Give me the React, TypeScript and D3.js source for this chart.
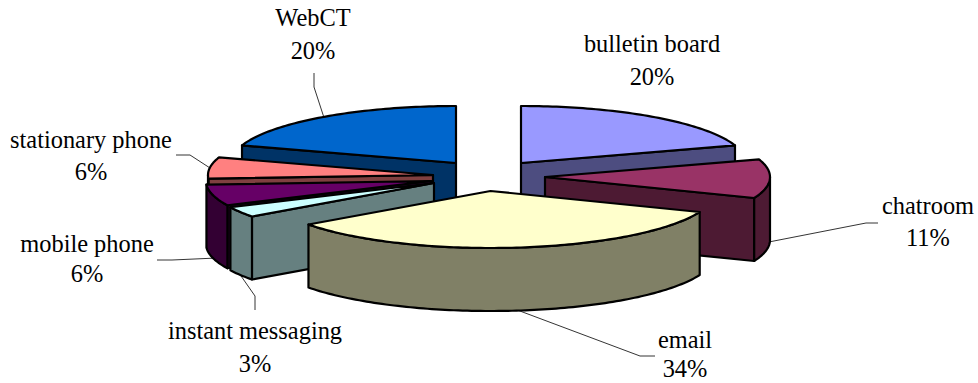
import React from "react";
import * as d3 from "d3";

// Share of each communication channel, clockwise from twelve o'clock.
const categories = ["bulletin board", "chatroom", "email", "instant messaging", "mobile phone", "stationary phone", "WebCT"];
const shares = [20, 11, 34, 3, 6, 6, 20];
const topColors = ["#9999FF", "#993366", "#FFFFCC", "#CCFFFF", "#660066", "#FF8080", "#0066CC"];
const sideColors = ["#4D4D80", "#4D1A33", "#808066", "#668080", "#330033", "#804040", "#003366"];

// Centre of every exploded wedge on the page.
const wedgeCentres: [number, number][] = [[521, 163], [545, 177], [490.5, 191], [434, 183], [431, 181], [433, 175], [456, 163]];
// Back-to-front painting order (indices into categories).
const paintOrder = [6, 0, 5, 1, 4, 3, 2];

// Label centre and the two text baselines.
const labelCentres: [number, number, number][] = [[652, 52, 85], [928, 214, 246], [685, 348, 377], [255, 339, 372], [87, 252, 282], [91, 148, 180], [313, 26, 59]];
// Elbow and end of each leader line; the first point is taken from the rim.
const leaderBends: ([number, number][] | null)[] = [null, [[866, 223], [878, 223]], [[640, 356], [655, 356]], [[255, 296], [255, 310]], [[172, 260], [157, 260]], [[190, 155], [176, 155]], [[314, 87], [314, 73]]];

const WIDTH = 978;
const HEIGHT = 383;
const RX = 225;
const RY = 57;
const DEPTH = 63;

const unitX = d3.scaleLinear().domain([-1, 1]).range([-RX, RX]);
const unitY = d3.scaleLinear().domain([-1, 1]).range([RY, -RY]);
const linePath = d3.line<[number, number]>();

const rimPoint = (c: [number, number], a: number, drop = 0): [number, number] => [
  c[0] + unitX(Math.sin(a)),
  c[1] + unitY(Math.cos(a)) + drop,
];

const rimArc = (c: [number, number], a0: number, a1: number, drop = 0): [number, number][] => {
  const n = Math.max(2, Math.ceil(Math.abs(a1 - a0) / 0.02));
  return d3.range(n + 1).map((i) => rimPoint(c, a0 + ((a1 - a0) * i) / n, drop));
};

export default function App() {
  const arcs = d3.pie<number>().sort(null).startAngle(0).endAngle(2 * Math.PI)(shares);
  const PI = Math.PI;

  return (
    <svg width={WIDTH} height={HEIGHT} style={{ position: "absolute", left: 0, top: 0, display: "block" }}>
      {paintOrder.map((i) => {
        const c = wedgeCentres[i];
        const { startAngle: a0, endAngle: a1 } = arcs[i];
        const faces: string[] = [];
        const radialFace = (a: number) => {
          const e = rimPoint(c, a);
          return linePath([c, e, [e[0], e[1] + DEPTH], [c[0], c[1] + DEPTH]]) + "Z";
        };
        // Cut faces turned towards the viewer.
        if (Math.sin(a0) < -1e-6) faces.push(radialFace(a0));
        if (Math.sin(a1) > 1e-6) faces.push(radialFace(a1));
        // Front part of the rim, between three and nine o'clock.
        const from = Math.max(a0, PI / 2);
        const to = Math.min(a1, (3 * PI) / 2);
        const rim =
          from < to
            ? linePath([...rimArc(c, from, to), ...rimArc(c, to, from, DEPTH)]) + "Z"
            : null;
        const top = linePath([c, ...rimArc(c, a0, a1)]) + "Z";
        return (
          <g key={categories[i]} stroke="#000" strokeWidth={2.2} strokeLinejoin="round">
            {faces.map((d, k) => (
              <path key={k} d={d} fill={sideColors[i]} />
            ))}
            {rim && <path d={rim} fill={sideColors[i]} />}
            <path d={top} fill={topColors[i]} />
          </g>
        );
      })}

      {categories.map((name, i) => {
        const bends = leaderBends[i];
        if (!bends) return null;
        const mid = (arcs[i].startAngle + arcs[i].endAngle) / 2;
        const drop = Math.cos(mid) < 0 ? DEPTH : 0;
        const start = rimPoint(wedgeCentres[i], mid, drop);
        return <path key={name} d={linePath([start, ...bends]) ?? ""} fill="none" stroke="#000" strokeWidth={0.8} />;
      })}

      <g fontFamily="'Liberation Serif', serif" fontSize={24.4} fill="#000" textAnchor="middle">
        {categories.map((name, i) => (
          <g key={name}>
            <text x={labelCentres[i][0]} y={labelCentres[i][1]}>{name}</text>
            <text x={labelCentres[i][0]} y={labelCentres[i][2]}>{shares[i]}%</text>
          </g>
        ))}
      </g>
    </svg>
  );
}
